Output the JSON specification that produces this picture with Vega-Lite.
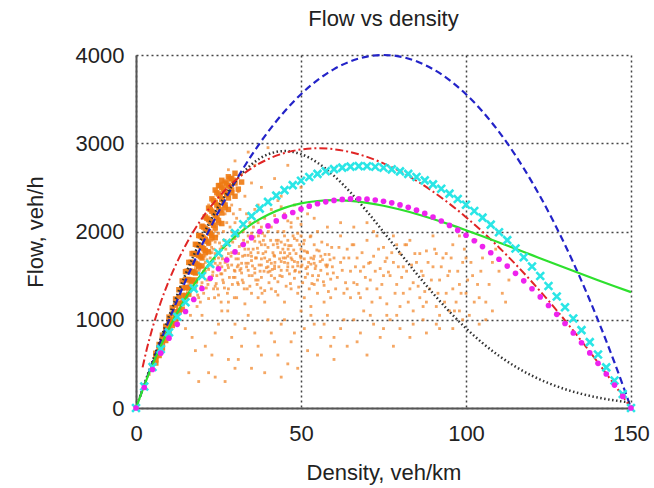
{
"$schema": "https://vega.github.io/schema/vega-lite/v6.json",
"width": 495, "height": 353,
"autosize": {"type": "none"},
"padding": {"left": 136, "top": 55, "right": 23, "bottom": 80},
"title": {"text": "Flow vs density", "font": "Liberation Sans", "fontSize": 22, "fontWeight": "normal", "color": "#222", "offset": 13},
"config": {"view": {"stroke": null}, "font": "Liberation Sans"},
"datasets": {
"band": [
{"k":6,"q":510},{"k":6,"q":545},{"k":6,"q":580},{"k":6,"q":620},{"k":7,"q":595},{"k":7,"q":640},{"k":7,"q":680},{"k":7,"q":720},{"k":8,"q":680},{"k":8,"q":730},{"k":8,"q":775},{"k":8,"q":825},{"k":9,"q":765},{"k":9,"q":820},{"k":9,"q":875},{"k":9,"q":925},{"k":10,"q":850},{"k":10,"q":910},{"k":10,"q":970},{"k":10,"q":1030},{"k":11,"q":935},{"k":11,"q":1000},{"k":11,"q":1065},{"k":11,"q":1135},{"k":12,"q":1020},{"k":12,"q":1090},{"k":12,"q":1165},{"k":12,"q":1235},{"k":13,"q":1105},{"k":13,"q":1185},{"k":13,"q":1260},{"k":13,"q":1340},{"k":14,"q":1190},{"k":14,"q":1275},{"k":14,"q":1360},{"k":14,"q":1440},{"k":15,"q":1275},{"k":15,"q":1365},{"k":15,"q":1455},{"k":15,"q":1545},{"k":16,"q":1360},{"k":16,"q":1455},{"k":16,"q":1550},{"k":16,"q":1650},{"k":17,"q":1445},{"k":17,"q":1545},{"k":17,"q":1650},{"k":17,"q":1750},{"k":18,"q":1530},{"k":18,"q":1640},{"k":18,"q":1745},{"k":18,"q":1855},{"k":19,"q":1615},{"k":19,"q":1730},{"k":19,"q":1845},{"k":19,"q":1955},{"k":20,"q":1700},{"k":20,"q":1820},{"k":20,"q":1940},{"k":20,"q":2060},{"k":21,"q":1785},{"k":21,"q":1910},{"k":21,"q":2035},{"k":21,"q":2165},{"k":22,"q":1870},{"k":22,"q":2000},{"k":22,"q":2135},{"k":22,"q":2265},{"k":23,"q":1955},{"k":23,"q":2095},{"k":23,"q":2230},{"k":23,"q":2370},{"k":24,"q":2040},{"k":24,"q":2185},{"k":24,"q":2330},{"k":24,"q":2470},{"k":25,"q":2125},{"k":25,"q":2275},{"k":25,"q":2425},{"k":25,"q":2520},{"k":26,"q":2210},{"k":26,"q":2365},{"k":26,"q":2500},{"k":26,"q":2580},{"k":27,"q":2300},{"k":27,"q":2450},{"k":27,"q":2560},{"k":28,"q":2380},{"k":28,"q":2520},{"k":28,"q":2620},{"k":29,"q":2470},{"k":29,"q":2600},{"k":30,"q":2550},{"k":30,"q":2660},
{"k":15.5,"q":1365},{"k":15.5,"q":1455},{"k":15.5,"q":1550},{"k":16.5,"q":1450},{"k":16.5,"q":1550},{"k":16.5,"q":1650},{"k":17.5,"q":1540},{"k":17.5,"q":1645},{"k":17.5,"q":1750},{"k":18.5,"q":1630},{"k":18.5,"q":1740},{"k":18.5,"q":1850},{"k":19.5,"q":1715},{"k":19.5,"q":1835},{"k":19.5,"q":1950},{"k":20.5,"q":1805},{"k":20.5,"q":1925},{"k":20.5,"q":2050},{"k":21.5,"q":1890},{"k":21.5,"q":2020},{"k":21.5,"q":2150},{"k":22.5,"q":1980},{"k":22.5,"q":2115},{"k":22.5,"q":2250},{"k":23.5,"q":2070},{"k":23.5,"q":2210},{"k":23.5,"q":2350},{"k":24.5,"q":2155},{"k":24.5,"q":2300},{"k":24.5,"q":2440},{"k":25.5,"q":2245},{"k":25.5,"q":2400},{"k":25.5,"q":2520},{"k":26.5,"q":2330},{"k":26.5,"q":2480},{"k":27.5,"q":2420},{"k":27.5,"q":2540},{"k":28.5,"q":2510},{"k":28.5,"q":2600},{"k":29.5,"q":2580},
{"k":12,"q":960},{"k":14,"q":1120},{"k":16,"q":1290},{"k":18,"q":1450},{"k":20,"q":1610},{"k":22,"q":1770},{"k":24,"q":1930},{"k":26,"q":2090},{"k":28,"q":2250},{"k":30,"q":2400},{"k":31,"q":2480},{"k":32,"q":2560},{"k":13,"q":1090},{"k":15,"q":1260},{"k":17,"q":1430},{"k":19,"q":1600},{"k":21,"q":1760},{"k":23,"q":1930},{"k":25,"q":2100},{"k":27,"q":2270},{"k":29,"q":2440}
],
"cloud": [
{"k":4,"q":380},{"k":5,"q":470},{"k":12,"q":1050},{"k":14,"q":1230},{"k":16,"q":1400},{"k":18,"q":1580},{"k":20,"q":1700},{"k":22,"q":1850},{"k":24,"q":2000},
{"k":18,"q":1350},{"k":18.5,"q":1520},{"k":19,"q":1250},{"k":19.5,"q":1610},{"k":20,"q":1420},{"k":20.5,"q":1300},{"k":21,"q":1550},{"k":21.5,"q":1680},{"k":22,"q":1240},{"k":22.5,"q":1460},{"k":23,"q":1610},{"k":23.5,"q":1350},{"k":24,"q":1750},{"k":24.5,"q":1500},{"k":25,"q":1280},{"k":25.5,"q":1640},{"k":26,"q":1830},{"k":26.5,"q":1420},{"k":27,"q":1560},{"k":27.5,"q":1700},{"k":28,"q":1350},{"k":28.5,"q":1900},{"k":29,"q":1620},{"k":29.5,"q":1480},{"k":30,"q":1780},{"k":30.5,"q":1250},{"k":31,"q":1690},{"k":31.5,"q":1560},{"k":32,"q":1850},{"k":32.5,"q":1420},{"k":33,"q":1730},{"k":33.5,"q":1600},{"k":34,"q":1950},{"k":34.5,"q":1380},{"k":35,"q":1670},{"k":35.5,"q":1800},{"k":36,"q":1530},{"k":36.5,"q":1700},{"k":37,"q":1450},{"k":37.5,"q":1880},{"k":38,"q":1620},{"k":38.5,"q":1750},{"k":39,"q":1330},{"k":39.5,"q":1590},{"k":40,"q":1820},{"k":40.5,"q":1680},{"k":41,"q":1500},{"k":41.5,"q":1760},{"k":42,"q":1610},{"k":42.5,"q":1900},{"k":43,"q":1430},{"k":43.5,"q":1690},{"k":44,"q":1560},{"k":44.5,"q":1800},{"k":45,"q":1650},{"k":45.5,"q":1380},{"k":46,"q":1720},{"k":46.5,"q":1520},{"k":47,"q":1840},{"k":47.5,"q":1600},{"k":48,"q":1470},{"k":48.5,"q":1750},{"k":49,"q":1650},{"k":49.5,"q":1540},{"k":50,"q":1800},{"k":50.5,"q":1420},{"k":51,"q":1690},{"k":51.5,"q":1580},{"k":52,"q":1760},{"k":52.5,"q":1350},{"k":53,"q":1630},{"k":53.5,"q":1500},{"k":54,"q":1720},{"k":54.5,"q":1610},{"k":55,"q":1450},{"k":55.5,"q":1780},{"k":56,"q":1560},{"k":56.5,"q":1680},{"k":57,"q":1390},{"k":57.5,"q":1620},{"k":58,"q":1520},{"k":58.5,"q":1740},{"k":59,"q":1460},{"k":59.5,"q":1600},{"k":60,"q":1700},
{"k":22,"q":1780},{"k":24,"q":1880},{"k":26,"q":1600},{"k":28,"q":1750},{"k":30,"q":1920},{"k":32,"q":1640},{"k":34,"q":1560},{"k":36,"q":1890},{"k":38,"q":1480},{"k":40,"q":1600},{"k":42,"q":1720},{"k":44,"q":1880},{"k":46,"q":1640},{"k":48,"q":1920},{"k":50,"q":1600},{"k":52,"q":1520},{"k":54,"q":1850},{"k":27,"q":1900},{"k":29,"q":2000},{"k":31,"q":1950},{"k":33,"q":2050},{"k":35,"q":1980},{"k":37,"q":2100},{"k":39,"q":1950},{"k":41,"q":2050},{"k":43,"q":2000},{"k":45,"q":1950},{"k":47,"q":2050},{"k":49,"q":1980},{"k":51,"q":1900},{"k":53,"q":1950},{"k":55,"q":2000},{"k":23,"q":1900},{"k":25,"q":1980},{"k":31,"q":1400},{"k":35,"q":1300},{"k":39,"q":1200},{"k":43,"q":1280},{"k":47,"q":1350},{"k":51,"q":1250},{"k":55,"q":1300},{"k":59,"q":1250},{"k":20,"q":1600},{"k":24,"q":1380},{"k":28,"q":1200},{"k":33,"q":1180},{"k":37,"q":1250},{"k":41,"q":1350},{"k":45,"q":1200},{"k":49,"q":1300},{"k":53,"q":1150},{"k":57,"q":1200},{"k":26,"q":1720},{"k":30,"q":1550},{"k":34,"q":1730},{"k":38,"q":1850},{"k":42,"q":1470},{"k":46,"q":1900},{"k":50,"q":1950},{"k":54,"q":1400},{"k":58,"q":1850},
{"k":18.3,"q":1420},{"k":18.7,"q":1280},{"k":19.2,"q":1560},{"k":19.8,"q":1380},{"k":20.4,"q":1490},{"k":20.9,"q":1720},{"k":21.3,"q":1360},{"k":21.8,"q":1590},{"k":22.4,"q":1450},{"k":22.9,"q":1820},{"k":23.3,"q":1540},{"k":23.8,"q":1690},{"k":24.3,"q":1410},{"k":24.8,"q":1610},{"k":25.3,"q":1870},{"k":25.7,"q":1520},{"k":26.2,"q":1690},{"k":26.8,"q":1360},{"k":27.2,"q":1800},{"k":27.8,"q":1620},{"k":28.3,"q":1480},{"k":28.8,"q":1720},{"k":29.3,"q":1880},{"k":29.8,"q":1560},{"k":30.3,"q":1690},{"k":30.8,"q":1420},{"k":31.3,"q":1830},{"k":31.8,"q":1580},{"k":32.3,"q":1720},{"k":32.8,"q":1350},{"k":33.3,"q":1640},{"k":33.8,"q":1880},{"k":34.3,"q":1500},{"k":34.8,"q":1760},{"k":35.3,"q":1610},
{"k":35.8,"q":1940},{"k":36.3,"q":1450},{"k":36.8,"q":1810},{"k":37.3,"q":1620},{"k":37.8,"q":1360},{"k":38.3,"q":1980},{"k":38.8,"q":1550},{"k":39.3,"q":1770},{"k":39.8,"q":1660},{"k":40.3,"q":1420},{"k":40.8,"q":1900},{"k":41.3,"q":1570},{"k":41.8,"q":1730},{"k":42.3,"q":1320},{"k":42.8,"q":1860},{"k":43.3,"q":1600},{"k":43.8,"q":1760},{"k":44.3,"q":1490},{"k":44.8,"q":2000},{"k":45.3,"q":1700},{"k":45.8,"q":1560},{"k":46.3,"q":1840},{"k":46.8,"q":1410},{"k":47.3,"q":1680},{"k":47.8,"q":1790},{"k":48.3,"q":1560},{"k":48.8,"q":1900},{"k":49.3,"q":1370},{"k":49.8,"q":1720},{"k":50.3,"q":1620},{"k":50.8,"q":1860},{"k":51.3,"q":1480},{"k":51.8,"q":1770},{"k":52.3,"q":1650},{"k":52.8,"q":1940},{"k":53.3,"q":1410},{"k":53.8,"q":1690},{"k":54.3,"q":1580},{"k":54.8,"q":1790},{"k":55.3,"q":1500},{"k":55.8,"q":1660},{"k":56.3,"q":1880},{"k":56.8,"q":1430},{"k":57.3,"q":1740},{"k":57.8,"q":1600},{"k":58.3,"q":1320},{"k":58.8,"q":1680},{"k":59.3,"q":1820},{"k":59.8,"q":1530},
{"k":21,"q":1650},{"k":23,"q":1760},{"k":25,"q":1700},{"k":27,"q":1650},{"k":29,"q":1760},{"k":31,"q":1620},{"k":33,"q":1800},{"k":35,"q":1720},{"k":37,"q":1760},{"k":39,"q":1700},{"k":41,"q":1640},{"k":43,"q":1820},{"k":45,"q":1760},{"k":47,"q":1700},{"k":49,"q":1610},{"k":51,"q":1780},{"k":53,"q":1700},{"k":22,"q":1570},{"k":24,"q":1640},{"k":26,"q":1520},{"k":28,"q":1590},{"k":30,"q":1480},{"k":32,"q":1530},{"k":34,"q":1640},{"k":36,"q":1580},{"k":38,"q":1690},{"k":40,"q":1540},{"k":42,"q":1580},{"k":44,"q":1660},{"k":46,"q":1600},{"k":48,"q":1660},{"k":50,"q":1700},{"k":52,"q":1600},{"k":54,"q":1640},{"k":56,"q":1720},{"k":58,"q":1620},
{"k":20.5,"q":1550},{"k":21.5,"q":1450},{"k":22.5,"q":1700},{"k":23.5,"q":1800},{"k":24.5,"q":1950},{"k":25.5,"q":1800},{"k":26.5,"q":2000},{"k":27.5,"q":2100},{"k":28.5,"q":2050},{"k":29.5,"q":2200},{"k":30.5,"q":2150},{"k":31.5,"q":2250},{"k":32.5,"q":2000},{"k":33.5,"q":2200},{"k":34.5,"q":2100},{"k":23.2,"q":1500},{"k":24.7,"q":1350},{"k":26.3,"q":1450},{"k":27.7,"q":1300},{"k":29.2,"q":1400},{"k":30.7,"q":1600},{"k":32.2,"q":1450},{"k":33.7,"q":1350},{"k":35.2,"q":1500},{"k":36.7,"q":1400},{"k":38.2,"q":1300},{"k":26.6,"q":1900},{"k":28.1,"q":1850},{"k":29.6,"q":1950},{"k":31.1,"q":1750},{"k":32.6,"q":1900},{"k":34.1,"q":1800},{"k":35.6,"q":2050},{"k":37.1,"q":1950},{"k":38.6,"q":1900},{"k":40.1,"q":2000},{"k":41.6,"q":1850},{"k":43.1,"q":1900},{"k":44.6,"q":1700},{"k":46.1,"q":1800},{"k":47.6,"q":1950},{"k":21.8,"q":1400},{"k":23.8,"q":1250},{"k":25.8,"q":1200},{"k":27.8,"q":1100},{"k":29.8,"q":1250},{"k":19.5,"q":1200},{"k":18.5,"q":1150},{"k":17.5,"q":1250},{"k":16.5,"q":1050},{"k":36.2,"q":1700},{"k":37.6,"q":1550},{"k":39.1,"q":1850},{"k":40.6,"q":1550},{"k":42.1,"q":1650},{"k":43.6,"q":1500},{"k":45.1,"q":1850},{"k":46.6,"q":1750},{"k":48.1,"q":1550},{"k":49.6,"q":1850},
{"k":61,"q":1480},{"k":62,"q":1650},{"k":63,"q":1300},{"k":64,"q":1800},{"k":65,"q":1550},{"k":66,"q":1420},{"k":67,"q":1700},{"k":68,"q":1250},{"k":69,"q":1600},{"k":70,"q":1900},{"k":71,"q":1450},{"k":72,"q":1720},{"k":73,"q":1350},{"k":74,"q":1580},{"k":75,"q":1820},{"k":76,"q":1180},{"k":77,"q":1500},{"k":78,"q":1650},{"k":79,"q":1400},{"k":80,"q":1750},{"k":81,"q":1300},{"k":82,"q":1550},{"k":83,"q":1900},{"k":84,"q":1420},{"k":85,"q":1650},{"k":86,"q":1250},{"k":87,"q":1500},{"k":88,"q":1780},{"k":89,"q":1350},{"k":90,"q":1600},{"k":91,"q":1150},{"k":92,"q":1450},{"k":93,"q":1700},{"k":94,"q":1300},{"k":95,"q":1550},{"k":96,"q":1850},{"k":97,"q":1200},{"k":98,"q":1400},{"k":99,"q":1650},{"k":100,"q":1300},{"k":101,"q":1050},{"k":102,"q":1500},{"k":104,"q":1250},{"k":105,"q":1700},{"k":107,"q":1400},{"k":108,"q":1100},{"k":110,"q":1550},{"k":62,"q":1950},{"k":64,"q":1350},{"k":66,"q":1850},{"k":68,"q":1550},{"k":70,"q":1350},{"k":72,"q":2000},{"k":74,"q":1250},{"k":76,"q":1700},{"k":78,"q":1950},{"k":80,"q":1150},{"k":82,"q":1850},{"k":84,"q":1100},{"k":86,"q":1750},{"k":88,"q":1200},{"k":90,"q":1950},{"k":92,"q":1050},{"k":94,"q":1750},{"k":96,"q":1350},{"k":98,"q":1950},{"k":100,"q":1700},{"k":103,"q":1900},{"k":106,"q":1200},{"k":109,"q":1800},{"k":63,"q":1700},{"k":67,"q":1400},{"k":71,"q":1650},{"k":75,"q":1500},{"k":79,"q":1850},{"k":83,"q":1350},{"k":87,"q":1150},{"k":91,"q":1750},{"k":95,"q":1100},{"k":99,"q":1000},{"k":65,"q":1250},{"k":69,"q":1100},{"k":73,"q":1950},{"k":77,"q":1000},{"k":81,"q":1600},
{"k":60.5,"q":1350},{"k":61.5,"q":1820},{"k":62.5,"q":1560},{"k":63.5,"q":1420},{"k":64.5,"q":1700},{"k":65.5,"q":1850},{"k":66.5,"q":1600},{"k":67.5,"q":1300},{"k":68.5,"q":1760},{"k":69.5,"q":1480},{"k":70.5,"q":1640},{"k":71.5,"q":1200},{"k":72.5,"q":1550},{"k":73.5,"q":1800},{"k":74.5,"q":1400},{"k":75.5,"q":1660},{"k":76.5,"q":1540},{"k":77.5,"q":1760},{"k":78.5,"q":1300},{"k":79.5,"q":1600},{"k":80.5,"q":1480},{"k":81.5,"q":1850},{"k":82.5,"q":1200},{"k":83.5,"q":1620},{"k":84.5,"q":1750},{"k":85.5,"q":1380},{"k":86.5,"q":1550},{"k":87.5,"q":1320},{"k":88.5,"q":1650},{"k":89.5,"q":1450},{"k":90.5,"q":1800},{"k":91.5,"q":1300},{"k":92.5,"q":1600},{"k":93.5,"q":1200},{"k":94.5,"q":1500},{"k":95.5,"q":1700},{"k":96.5,"q":1100},{"k":97.5,"q":1550},{"k":98.5,"q":1300},{"k":99.5,"q":1800},{"k":100.5,"q":1450},{"k":101.5,"q":1650},{"k":102.5,"q":1200},{"k":103.5,"q":1400},{"k":104.5,"q":1550},{"k":106,"q":1000},{"k":108,"q":1650},{"k":111,"q":1300},{"k":113,"q":1450},
{"k":15,"q":900},{"k":18,"q":650},{"k":20,"q":1050},{"k":22,"q":400},{"k":24,"q":850},{"k":26,"q":1100},{"k":28,"q":550},{"k":30,"q":950},{"k":32,"q":700},{"k":34,"q":1050},{"k":35,"q":450},{"k":36,"q":850},{"k":38,"q":600},{"k":40,"q":1000},{"k":42,"q":750},{"k":44,"q":950},{"k":46,"q":500},{"k":48,"q":850},{"k":50,"q":1100},{"k":52,"q":650},{"k":54,"q":950},{"k":56,"q":800},{"k":58,"q":1050},{"k":60,"q":550},{"k":62,"q":900},{"k":64,"q":700},{"k":66,"q":1000},{"k":68,"q":850},{"k":70,"q":600},{"k":72,"q":950},{"k":74,"q":800},{"k":76,"q":1050},{"k":78,"q":700},{"k":80,"q":900},{"k":84,"q":950},{"k":88,"q":850},{"k":92,"q":900},{"k":19,"q":300},{"k":16,"q":400},{"k":24,"q":350},{"k":30,"q":450},{"k":44,"q":350},{"k":60,"q":800},{"k":98,"q":1100},{"k":104,"q":950},{"k":112,"q":1200},
{"k":17,"q":800},{"k":21,"q":700},{"k":23,"q":600},{"k":25,"q":950},{"k":27,"q":300},{"k":29,"q":800},{"k":31,"q":550},{"k":33,"q":900},{"k":37,"q":700},{"k":39,"q":400},{"k":41,"q":850},{"k":43,"q":600},{"k":45,"q":1000},{"k":47,"q":750},{"k":49,"q":450},{"k":51,"q":900},{"k":53,"q":1050},{"k":55,"q":600},{"k":57,"q":950},{"k":59,"q":700},{"k":63,"q":1000},{"k":67,"q":750},{"k":71,"q":1050},{"k":75,"q":900},{"k":79,"q":1050},{"k":83,"q":800},{"k":87,"q":1000},{"k":91,"q":950},{"k":96,"q":900},
{"k":22,"q":2300},{"k":24,"q":2450},{"k":26,"q":2550},{"k":28,"q":2700},{"k":30,"q":2800},{"k":32,"q":2650},{"k":34,"q":2900},{"k":36,"q":2750},{"k":38,"q":2500},{"k":40,"q":2950},{"k":42,"q":2600},{"k":44,"q":2400},{"k":46,"q":2750},{"k":48,"q":2300},{"k":50,"q":2500},{"k":33,"q":2400},{"k":37,"q":2300},{"k":41,"q":2250},{"k":45,"q":2200},{"k":49,"q":2150},{"k":29,"q":2300},{"k":31,"q":2450},{"k":35,"q":2550},{"k":39,"q":2150},{"k":43,"q":2350},{"k":47,"q":2100},{"k":52,"q":2200},{"k":27,"q":2200},{"k":25,"q":2150},
{"k":30,"q":2100},{"k":34,"q":2150},{"k":38,"q":2050},{"k":42,"q":2180},{"k":46,"q":2120},{"k":50,"q":2080},{"k":54,"q":2150},{"k":58,"q":2050},{"k":62,"q":2100},{"k":66,"q":2050},{"k":70,"q":2100},{"k":36,"q":2250},{"k":44,"q":2280}
],
"blue": [
{"k":0,"q":0},{"k":5,"q":515.6},{"k":10,"q":995.6},{"k":15,"q":1440},{"k":20,"q":1848.9},{"k":25,"q":2222.2},{"k":30,"q":2560},{"k":35,"q":2862.2},{"k":40,"q":3128.9},{"k":45,"q":3360},{"k":50,"q":3555.6},{"k":55,"q":3715.6},{"k":60,"q":3840},{"k":65,"q":3928.9},{"k":70,"q":3982.2},{"k":75,"q":4000},{"k":80,"q":3982.2},{"k":85,"q":3928.9},{"k":90,"q":3840},{"k":95,"q":3715.6},{"k":100,"q":3555.6},{"k":105,"q":3360},{"k":110,"q":3128.9},{"k":115,"q":2862.2},{"k":120,"q":2560},{"k":125,"q":2222.2},{"k":130,"q":1848.9},{"k":135,"q":1440},{"k":140,"q":995.6},{"k":145,"q":515.6},{"k":150,"q":0}
],
"red": [
{"k":2,"q":460.5},{"k":3,"q":625.9},{"k":5,"q":907},{"k":7.5,"q":1198.3},{"k":10,"q":1444.3},{"k":15,"q":1842.1},{"k":20,"q":2149.2},{"k":25,"q":2389},{"k":30,"q":2575.1},{"k":35,"q":2716.5},{"k":40,"q":2819.8},{"k":45,"q":2889.5},{"k":50,"q":2929.6},{"k":55,"q":2943},{"k":60,"q":2932.1},{"k":65,"q":2899},{"k":70,"q":2845.3},{"k":75,"q":2772.6},{"k":80,"q":2682.1},{"k":85,"q":2574.9},{"k":90,"q":2452},{"k":95,"q":2314.2},{"k":100,"q":2162.5},{"k":105,"q":1997.4},{"k":110,"q":1819.6},{"k":115,"q":1629.6},{"k":120,"q":1428.1},{"k":125,"q":1215.5},{"k":130,"q":992.2},{"k":135,"q":758.6},{"k":140,"q":515.2},{"k":145,"q":262.2},{"k":150,"q":0}
],
"black": [
{"k":0,"q":0},{"k":5,"q":530},{"k":10,"q":1040.7},{"k":15,"q":1513.5},{"k":20,"q":1932.7},{"k":25,"q":2285.3},{"k":30,"q":2562.4},{"k":35,"q":2758.9},{"k":40,"q":2874.2},{"k":45,"q":2911.3},{"k":50,"q":2876.8},{"k":55,"q":2779.8},{"k":60,"q":2631.1},{"k":65,"q":2442.8},{"k":70,"q":2226.8},{"k":75,"q":1994.8},{"k":80,"q":1757.3},{"k":85,"q":1523.1},{"k":90,"q":1299.2},{"k":95,"q":1091.6},{"k":100,"q":903.1},{"k":105,"q":736.2},{"k":110,"q":591.3},{"k":115,"q":468.3},{"k":120,"q":365.6},{"k":125,"q":281.5},{"k":130,"q":213.7},{"k":135,"q":160},{"k":140,"q":118.2},{"k":145,"q":86.1},{"k":150,"q":61.9}
],
"green": [
{"k":0,"q":0},{"k":5,"q":490.7},{"k":10,"q":902.9},{"k":15,"q":1246.1},{"k":20,"q":1528.6},{"k":25,"q":1758},{"k":30,"q":1940.9},{"k":35,"q":2083.3},{"k":40,"q":2190.6},{"k":45,"q":2267.4},{"k":50,"q":2317.9},{"k":55,"q":2345.8},{"k":60,"q":2354.4},{"k":65,"q":2346.7},{"k":70,"q":2325.1},{"k":75,"q":2292},{"k":80,"q":2249.4},{"k":85,"q":2198.9},{"k":90,"q":2142},{"k":95,"q":2080.3},{"k":100,"q":2014.7},{"k":105,"q":1946.3},{"k":110,"q":1875.9},{"k":115,"q":1804.4},{"k":120,"q":1732.3},{"k":125,"q":1660.2},{"k":130,"q":1588.6},{"k":135,"q":1517.7},{"k":140,"q":1448.1},{"k":145,"q":1379.9},{"k":150,"q":1313.4}
],
"cyan": [
{"k":0,"q":0},{"k":2.5,"q":243.8},{"k":5,"q":464},{"k":7.5,"q":667.4},{"k":10,"q":856.6},{"k":12.5,"q":1033.1},{"k":15,"q":1198.1},{"k":17.5,"q":1352.4},{"k":20,"q":1496.5},{"k":22.5,"q":1631.1},{"k":25,"q":1756.6},{"k":27.5,"q":1873.3},{"k":30,"q":1981.7},{"k":32.5,"q":2081.9},{"k":35,"q":2174.2},{"k":37.5,"q":2258.9},{"k":40,"q":2336.1},{"k":42.5,"q":2406.2},{"k":45,"q":2469.1},{"k":47.5,"q":2525.2},{"k":50,"q":2574.5},{"k":52.5,"q":2617.1},{"k":55,"q":2653.3},{"k":57.5,"q":2683.1},{"k":60,"q":2706.6},{"k":62.5,"q":2724},{"k":65,"q":2735.4},{"k":67.5,"q":2740.8},{"k":70,"q":2740.3},{"k":72.5,"q":2734},{"k":75,"q":2722},{"k":77.5,"q":2704.3},{"k":80,"q":2681.1},{"k":82.5,"q":2652.5},{"k":85,"q":2618.4},{"k":87.5,"q":2578.9},{"k":90,"q":2534.2},{"k":92.5,"q":2484.2},{"k":95,"q":2429.1},{"k":97.5,"q":2368.8},{"k":100,"q":2303.4},{"k":102.5,"q":2233.1},{"k":105,"q":2157.7},{"k":107.5,"q":2077.5},{"k":110,"q":1992.3},{"k":112.5,"q":1902.4},{"k":115,"q":1807.6},{"k":117.5,"q":1708.1},{"k":120,"q":1604},{"k":122.5,"q":1495.1},{"k":125,"q":1381.7},{"k":127.5,"q":1263.6},{"k":130,"q":1140.9},{"k":132.5,"q":1013.8},{"k":135,"q":882.1},{"k":137.5,"q":746.1},{"k":140,"q":605.6},{"k":142.5,"q":460.7},{"k":145,"q":311.4},{"k":147.5,"q":157.9},{"k":150,"q":0}
],
"magenta": [
{"k":0,"q":0},{"k":2.5,"q":232.2},{"k":5,"q":436},{"k":7.5,"q":621.1},{"k":10,"q":791.3},{"k":12.5,"q":948.4},{"k":15,"q":1094},{"k":17.5,"q":1229.1},{"k":20,"q":1354.4},{"k":22.5,"q":1470.5},{"k":25,"q":1578},{"k":27.5,"q":1677.4},{"k":30,"q":1768.9},{"k":32.5,"q":1853},{"k":35,"q":1929.9},{"k":37.5,"q":2000},{"k":40,"q":2063.4},{"k":42.5,"q":2120.3},{"k":45,"q":2170.9},{"k":47.5,"q":2215.5},{"k":50,"q":2254.1},{"k":52.5,"q":2287},{"k":55,"q":2314.2},{"k":57.5,"q":2335.9},{"k":60,"q":2352.3},{"k":62.5,"q":2363.4},{"k":65,"q":2369.2},{"k":67.5,"q":2370.1},{"k":70,"q":2366},{"k":72.5,"q":2357},{"k":75,"q":2343.1},{"k":77.5,"q":2324.6},{"k":80,"q":2301.5},{"k":82.5,"q":2273.7},{"k":85,"q":2241.5},{"k":87.5,"q":2204.9},{"k":90,"q":2163.9},{"k":92.5,"q":2118.6},{"k":95,"q":2069},{"k":97.5,"q":2015.2},{"k":100,"q":1957.4},{"k":102.5,"q":1895.4},{"k":105,"q":1829.4},{"k":107.5,"q":1759.4},{"k":110,"q":1685.5},{"k":112.5,"q":1607.7},{"k":115,"q":1526},{"k":117.5,"q":1440.6},{"k":120,"q":1351.3},{"k":122.5,"q":1258.4},{"k":125,"q":1161.7},{"k":127.5,"q":1061.4},{"k":130,"q":957.5},{"k":132.5,"q":850},{"k":135,"q":739},{"k":137.5,"q":624.4},{"k":140,"q":506.4},{"k":142.5,"q":384.9},{"k":145,"q":260},{"k":147.5,"q":131.7},{"k":150,"q":0}
]
},
"layer": [
{"data": {"name": "cloud"},
 "mark": {"type": "point", "filled": true, "shape": "square", "size": 8, "color": "#f28a30", "opacity": 0.75},
 "encoding": {
  "x": {"field": "k", "type": "quantitative", "scale": {"domain": [0, 150], "nice": false},
   "axis": {"values": [0, 50, 100, 150], "format": "d", "title": "Density, veh/km", "titleFont": "Liberation Sans", "titleFontSize": 22, "titleFontWeight": "normal", "titleColor": "#222", "titlePadding": 18,
    "labelFont": "Liberation Sans", "labelFontSize": 22, "labelColor": "#222", "labelPadding": 15, "ticks": false, "domainColor": "#555", "domainWidth": 2,
    "grid": true, "gridColor": "#444", "gridDash": [2, 3], "gridWidth": 1.5, "gridOpacity": 1, "labelFlush": false}},
  "y": {"field": "q", "type": "quantitative", "scale": {"domain": [0, 4000], "nice": false},
   "axis": {"values": [0, 1000, 2000, 3000, 4000], "format": "d", "title": "Flow, veh/h", "titleFont": "Liberation Sans", "titleFontSize": 22, "titleFontWeight": "normal", "titleColor": "#222", "titlePadding": 28,
    "labelFont": "Liberation Sans", "labelFontSize": 22, "labelColor": "#222", "labelPadding": 12, "ticks": false, "domainColor": "#555", "domainWidth": 2,
    "grid": true, "gridColor": "#444", "gridDash": [2, 3], "gridWidth": 1.5, "gridOpacity": 1, "labelFlush": false}}
 }},
{"data": {"name": "band"},
 "mark": {"type": "point", "filled": true, "shape": "square", "size": 30, "color": "#ee7a12", "opacity": 0.9},
 "encoding": {"x": {"field": "k", "type": "quantitative"}, "y": {"field": "q", "type": "quantitative"}}},
{"data": {"name": "blue"},
 "mark": {"type": "line", "color": "#2323c8", "strokeWidth": 2.2, "strokeDash": [7, 4], "interpolate": "monotone"},
 "encoding": {"x": {"field": "k", "type": "quantitative"}, "y": {"field": "q", "type": "quantitative"}}},
{"data": {"name": "black"},
 "mark": {"type": "line", "color": "#333333", "strokeWidth": 2.5, "strokeDash": [1.5, 2.5], "interpolate": "monotone"},
 "encoding": {"x": {"field": "k", "type": "quantitative"}, "y": {"field": "q", "type": "quantitative"}}},
{"data": {"name": "red"},
 "mark": {"type": "line", "color": "#e02525", "strokeWidth": 2, "strokeDash": [8, 3, 2, 3], "interpolate": "monotone"},
 "encoding": {"x": {"field": "k", "type": "quantitative"}, "y": {"field": "q", "type": "quantitative"}}},
{"data": {"name": "green"},
 "mark": {"type": "line", "color": "#2ee02e", "strokeWidth": 2.2, "interpolate": "monotone"},
 "encoding": {"x": {"field": "k", "type": "quantitative"}, "y": {"field": "q", "type": "quantitative"}}},
{"data": {"name": "cyan"},
 "mark": {"type": "point", "shape": "M-1,-1L1,1M-1,1L1,-1", "filled": false, "size": 60, "strokeWidth": 2.6, "color": "#2ae6e6", "opacity": 1},
 "encoding": {"x": {"field": "k", "type": "quantitative"}, "y": {"field": "q", "type": "quantitative"}}},
{"data": {"name": "magenta"},
 "mark": {"type": "circle", "size": 32, "color": "#ee22ee", "opacity": 1},
 "encoding": {"x": {"field": "k", "type": "quantitative"}, "y": {"field": "q", "type": "quantitative"}}}
]
}
